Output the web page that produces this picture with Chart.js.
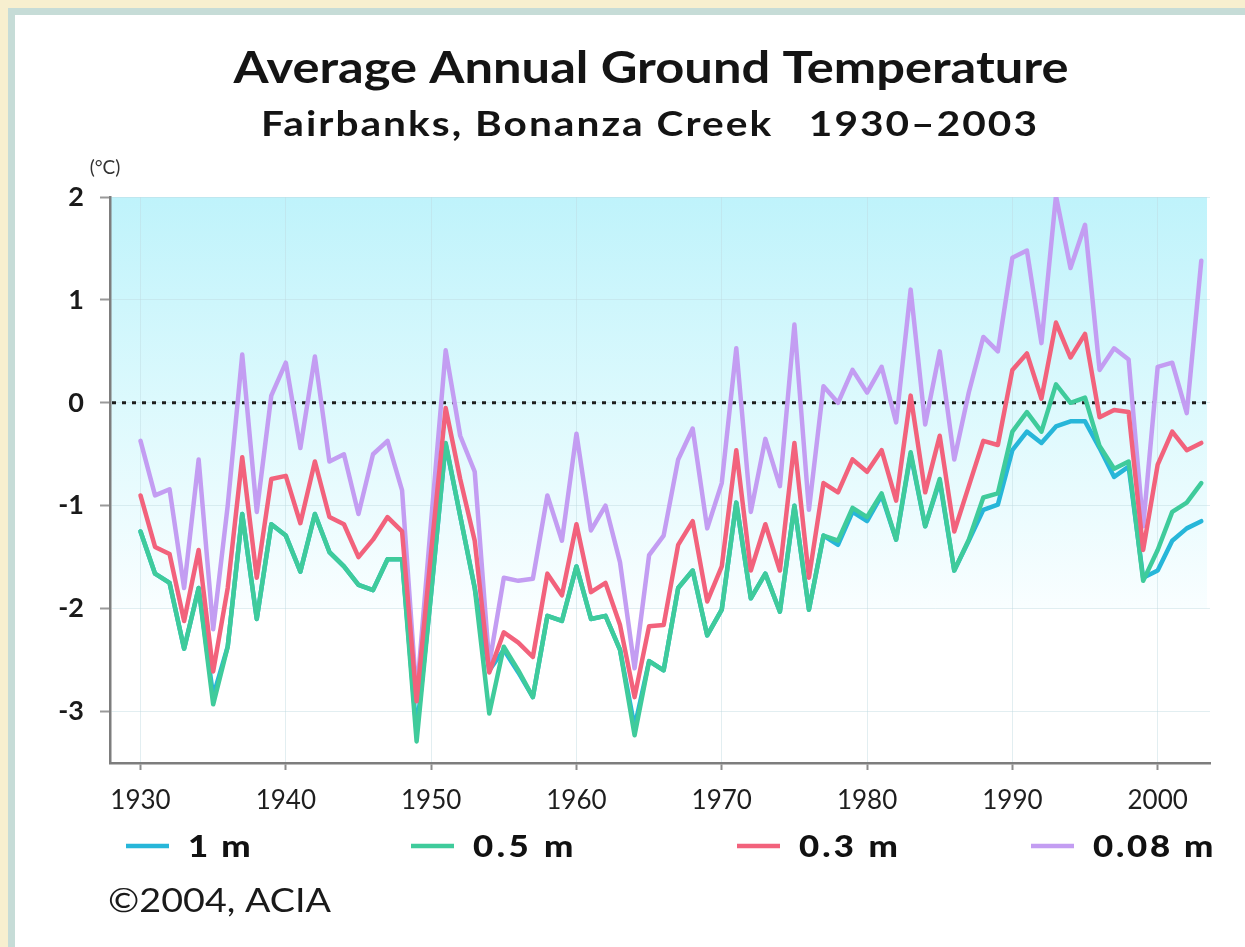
<!DOCTYPE html>
<html>
<head>
<meta charset="utf-8">
<script src="https://cdn.jsdelivr.net/npm/chart.js@4/dist/chart.umd.min.js"></script>
<style>
  html, body { margin: 0; padding: 0; width: 1245px; height: 947px; overflow: hidden; background: #f7efcf; }
  #frame { position: absolute; left: 8px; top: 8px; right: 0; bottom: 0; background: #c6dcd7; }
  #panel { position: absolute; left: 15px; top: 15px; right: 0; bottom: 0; background: #ffffff; }
  #graf { position: absolute; left: 0; top: 0; }
</style>
</head>
<body>
<div id="frame"></div>
<div id="panel"></div>
<canvas id="graf" width="1245" height="947"></canvas>
<script>
// years of record
let years = [1930,1931,1932,1933,1934,1935,1936,1937,1938,1939,
             1940,1941,1942,1943,1944,1945,1946,1947,1948,1949,
             1950,1951,1952,1953,1954,1955,1956,1957,1958,1959,
             1960,1961,1962,1963,1964,1965,1966,1967,1968,1969,
             1970,1971,1972,1973,1974,1975,1976,1977,1978,1979,
             1980,1981,1982,1983,1984,1985,1986,1987,1988,1989,
             1990,1991,1992,1993,1994,1995,1996,1997,1998,1999,
             2000,2001,2002,2003]

// ground temperature (°C) at each depth
let depth1m = [-1.25,-1.66,-1.75,-2.39,-1.8,-2.85,-2.37,-1.08,-2.1,-1.18,
               -1.29,-1.64,-1.08,-1.45,-1.59,-1.77,-1.82,-1.52,-1.52,-3.2,
               -1.85,-0.4,-1.1,-1.8,-2.6,-2.4,-2.62,-2.86,-2.07,-2.12,
               -1.59,-2.1,-2.07,-2.4,-3.15,-2.51,-2.6,-1.8,-1.63,-2.26,
               -2.01,-0.97,-1.9,-1.66,-2.03,-1.0,-2.01,-1.29,-1.38,-1.06,
               -1.15,-0.9,-1.33,-0.5,-1.2,-0.76,-1.63,-1.34,-1.04,-0.99,
               -0.46,-0.28,-0.39,-0.23,-0.18,-0.18,-0.44,-0.72,-0.62,-1.7,
               -1.63,-1.34,-1.22,-1.15]
let depth05m = [-1.25,-1.66,-1.75,-2.39,-1.8,-2.93,-2.37,-1.08,-2.1,-1.18,
                -1.29,-1.64,-1.08,-1.45,-1.59,-1.77,-1.82,-1.52,-1.52,-3.29,
                -1.85,-0.39,-1.1,-1.8,-3.02,-2.37,-2.6,-2.86,-2.07,-2.12,
                -1.59,-2.1,-2.07,-2.4,-3.23,-2.51,-2.6,-1.8,-1.63,-2.26,
                -2.01,-0.97,-1.9,-1.66,-2.03,-1.0,-2.01,-1.29,-1.34,-1.02,
                -1.11,-0.88,-1.33,-0.48,-1.2,-0.74,-1.63,-1.33,-0.92,-0.88,
                -0.28,-0.09,-0.28,0.18,0.0,0.05,-0.42,-0.64,-0.57,-1.73,
                -1.43,-1.06,-0.97,-0.78]
let depth03m = [-0.9,-1.4,-1.47,-2.12,-1.43,-2.61,-1.8,-0.53,-1.7,-0.74,
                -0.71,-1.17,-0.57,-1.11,-1.18,-1.5,-1.33,-1.11,-1.25,-2.9,
                -1.45,-0.05,-0.74,-1.34,-2.62,-2.23,-2.33,-2.47,-1.66,-1.87,
                -1.18,-1.84,-1.75,-2.16,-2.86,-2.17,-2.16,-1.38,-1.15,-1.93,
                -1.59,-0.46,-1.63,-1.18,-1.63,-0.39,-1.7,-0.78,-0.87,-0.55,
                -0.67,-0.46,-0.95,0.07,-0.87,-0.32,-1.25,-0.81,-0.37,-0.41,
                0.32,0.48,0.04,0.78,0.44,0.67,-0.14,-0.07,-0.09,-1.43,
                -0.6,-0.28,-0.46,-0.39]
let depth008m = [-0.37,-0.9,-0.84,-1.8,-0.55,-2.2,-1.0,0.47,-1.06,0.07,
                 0.39,-0.44,0.45,-0.57,-0.5,-1.08,-0.5,-0.37,-0.85,-2.85,
                 -1.15,0.51,-0.32,-0.67,-2.54,-1.7,-1.73,-1.71,-0.9,-1.34,
                 -0.3,-1.24,-1.0,-1.55,-2.58,-1.48,-1.29,-0.55,-0.25,-1.22,
                 -0.78,0.53,-1.06,-0.35,-0.81,0.76,-1.04,0.16,0.0,0.32,
                 0.1,0.35,-0.19,1.1,-0.21,0.5,-0.55,0.1,0.64,0.5,
                 1.41,1.48,0.58,2.01,1.31,1.73,0.32,0.53,0.42,-1.2,
                 0.35,0.39,-0.1,1.38]

let depthLabels = ['1 m','0.5 m','0.3 m','0.08 m']
let xTicks = [1930,1940,1950,1960,1970,1980,1990,2000]
let yTicks = [-3,-2,-1,0,1,2]

const pts = arr => arr.map((v, i) => ({x: years[i], y: v}))
const FONT = 'Lato, "Open Sans", sans-serif'

// draw text widened to a given width (stretch first, then a little spacing)
function fitText(ctx, text, x, y, w, align) {
  ctx.letterSpacing = '0px'
  const m = ctx.measureText(text).width
  const sx = Math.min(w / m, 1.16)
  const sp = (w - m * sx) / text.length / sx
  ctx.save()
  ctx.translate(align === 'center' ? x - w / 2 : x, y)
  ctx.scale(sx, 1)
  ctx.letterSpacing = sp + 'px'
  ctx.textAlign = 'left'
  ctx.fillText(text, 0, 0)
  ctx.restore()
}

const decor = {
  id: 'decor',
  beforeDraw(chart) {
    const {ctx, chartArea: a, scales: {y}} = chart
    const yb = y.getPixelForValue(-2)
    const g = ctx.createLinearGradient(0, a.top, 0, yb)
    g.addColorStop(0, '#bff3fb')
    g.addColorStop(0.5, '#dcf9fd')
    g.addColorStop(1, '#f9feff')
    ctx.save()
    ctx.fillStyle = g
    ctx.fillRect(a.left, a.top, a.right - a.left - 3, yb - a.top)
    ctx.restore()
  },
  beforeDatasetsDraw(chart) {
    const {ctx, chartArea: a, scales: {y}} = chart
    const y0 = y.getPixelForValue(0)
    ctx.save()
    ctx.strokeStyle = '#1c1c1c'
    ctx.lineWidth = 3
    ctx.setLineDash([4, 6])
    ctx.beginPath()
    ctx.moveTo(a.left + 2, y0)
    ctx.lineTo(a.right, y0)
    ctx.stroke()
    ctx.restore()
  },
  afterDraw(chart) {
    const ctx = chart.ctx
    ctx.save()
    ctx.fillStyle = '#141414'
    ctx.textBaseline = 'alphabetic'
    ctx.font = 'bold 44px ' + FONT
    fitText(ctx, 'Average Annual Ground Temperature', 651, 83, 835, 'center')
    ctx.font = 'bold 35px ' + FONT
    fitText(ctx, 'Fairbanks, Bonanza Creek   1930\u20132003', 650, 136, 778, 'center')
    ctx.fillStyle = '#333'
    ctx.font = '19px ' + FONT
    ctx.textAlign = 'center'
    ctx.fillText('(\u00b0C)', 105, 174)

    // legend
    const lx = [126, 411, 737, 1031]
    const tw = [65, 104, 102, 123]
    ctx.font = '900 30px ' + FONT
    chart.data.datasets.forEach((ds, i) => {
      ctx.strokeStyle = ds.borderColor
      ctx.lineWidth = 4.5
      ctx.beginPath()
      ctx.moveTo(lx[i], 846)
      ctx.lineTo(lx[i] + 43, 846)
      ctx.stroke()
      ctx.fillStyle = '#111'
      fitText(ctx, ds.label, lx[i] + 62, 857, tw[i], 'left')
    })

    ctx.fillStyle = '#1a1a1a'
    ctx.font = '33px ' + FONT
    fitText(ctx, '\u00a92004, ACIA', 108, 912, 223, 'left')
    ctx.restore()
  }
}

const graf = document.getElementById('graf').getContext('2d')
const migrafica = new Chart(graf, {
  type: 'line',
  data: {
    datasets: [
      {label: depthLabels[0], data: pts(depth1m), borderColor: '#27b6d9', order: 3},
      {label: depthLabels[1], data: pts(depth05m), borderColor: '#3fcb9b', order: 1},
      {label: depthLabels[2], data: pts(depth03m), borderColor: '#f2627c', order: 0},
      {label: depthLabels[3], data: pts(depth008m), borderColor: '#c39df2', order: 2}
    ]
  },
  options: {
    responsive: false,
    animation: false,
    devicePixelRatio: 1,
    layout: {padding: {top: 197, right: 35, bottom: 114, left: 0}},
    elements: {
      line: {borderWidth: 4.5, tension: 0, borderJoinStyle: 'round', borderCapStyle: 'round'},
      point: {radius: 0, hoverRadius: 0}
    },
    plugins: {
      legend: {display: false},
      title: {display: false},
      tooltip: {enabled: false}
    },
    scales: {
      x: {
        type: 'linear',
        min: 1927.9,
        max: 2003.6,
        afterBuildTicks: s => { s.ticks = xTicks.map(v => ({value: v})) },
        afterFit: s => { s.height = 70 },
        grid: {color: 'rgba(190,218,224,0.45)', lineWidth: 1, tickLength: 7, tickColor: '#8c8c8c', tickWidth: 2},
        border: {color: '#7d7d7d', width: 2.5},
        ticks: {color: '#1e1e1e', font: {family: FONT, size: 26}, padding: 15, maxRotation: 0,
                callback: v => String(v)}
      },
      y: {
        min: -3.5,
        max: 2,
        afterBuildTicks: s => { s.ticks = yTicks.map(v => ({value: v})) },
        afterFit: s => { s.width = 110 },
        grid: {color: 'rgba(190,218,224,0.45)', lineWidth: 1, tickLength: 10, tickColor: '#999', tickWidth: 2},
        border: {color: '#7d7d7d', width: 2.5},
        ticks: {color: '#1a1a1a', font: {family: FONT, size: 27, weight: 'bold'}, padding: 16,
                callback: v => String(v)}
      }
    }
  },
  plugins: [decor]
})
</script>
</body>
</html>
